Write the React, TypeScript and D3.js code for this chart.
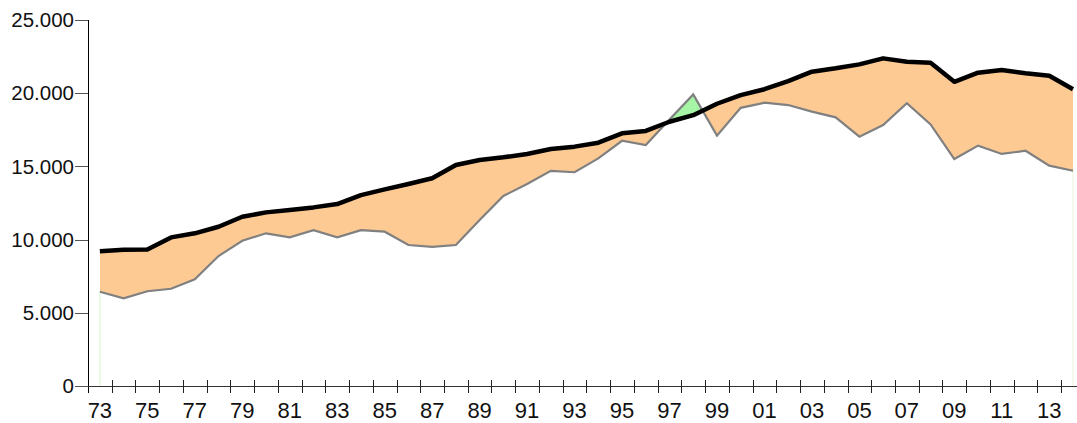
import React, { useEffect } from "react";
import * as d3 from "d3";

const years: number[] = [
  1973, 1974, 1975, 1976, 1977, 1978, 1979, 1980, 1981, 1982, 1983, 1984, 1985, 1986,
  1987, 1988, 1989, 1990, 1991, 1992, 1993, 1994, 1995, 1996, 1997, 1998, 1999, 2000,
  2001, 2002, 2003, 2004, 2005, 2006, 2007, 2008, 2009, 2010, 2011, 2012, 2013, 2014,
];

// thick black series
const seriesA: number[] = [
  9200, 9300, 9330, 10150, 10430, 10880, 11560, 11860, 12020, 12200, 12430, 13040, 13430, 13800,
  14190, 15100, 15440, 15620, 15850, 16190, 16350, 16620, 17260, 17420, 18050, 18500, 19280, 19870,
  20270, 20830, 21470, 21700, 21970, 22380, 22150, 22080, 20780, 21400, 21580, 21360, 21190, 20270,
];

// thin grey series
const seriesB: number[] = [
  6440, 5990, 6470, 6640, 7290, 8880, 9920, 10430, 10160, 10650, 10160, 10650, 10540, 9630,
  9510, 9630, 11340, 12980, 13800, 14700, 14600, 15550, 16750, 16460, 18200, 19920, 17100, 19000,
  19350, 19190, 18740, 18350, 17030, 17830, 19310, 17870, 15500, 16420, 15850, 16070, 15050, 14700,
];

const yTicks: number[] = [0, 5000, 10000, 15000, 20000, 25000];
const xLabelYears: number[] = years.filter((y) => (y - 1973) % 2 === 0);

const W = 1077;
const H = 423;
const M = { left: 88, top: 20, right: 4, bottom: 37 };

export default function App() {
  useEffect(() => {
    document.body.style.margin = "0";
  }, []);

  const data = years.map((yr, i) => ({ yr, a: seriesA[i], b: seriesB[i] }));

  const x = d3.scaleLinear().domain([1972.5, 2014]).range([M.left, 1073]);
  const y = d3.scaleLinear().domain([0, 25000]).range([H - M.bottom, M.top]);
  const y0 = y(0);
  const top = y(25000);

  const lineA = d3.line<any>().x((d) => x(d.yr)).y((d) => y(d.a));
  const lineB = d3.line<any>().x((d) => x(d.yr)).y((d) => y(d.b));
  const clipBelowA = d3.area<any>().x((d) => x(d.yr)).y0(y0).y1((d) => y(d.a));
  const clipAboveA = d3.area<any>().x((d) => x(d.yr)).y0(0).y1((d) => y(d.a));
  const areaBtoTop = d3.area<any>().x((d) => x(d.yr)).y0((d) => y(d.b)).y1(0);
  const areaBtoBottom = d3.area<any>().x((d) => x(d.yr)).y0(y0).y1((d) => y(d.b));

  const first = data[0];
  const last = data[data.length - 1];
  const font = "'Liberation Sans', Arial, sans-serif";

  const tickYears = d3.range(1973.5, 2014, 1);

  return (
    <svg
      width={W}
      height={H}
      style={{ display: "block", position: "absolute", left: 0, top: 0, background: "#fff" }}
    >
      <defs>
        <clipPath id="clipBelowA">
          <path d={clipBelowA(data) || ""} />
        </clipPath>
        <clipPath id="clipAboveA">
          <path d={clipAboveA(data) || ""} />
        </clipPath>
      </defs>

      {/* orange: A above B */}
      <path d={areaBtoTop(data) || ""} fill="#fdca94" clipPath="url(#clipBelowA)" />
      {/* green: B above A */}
      <path d={areaBtoBottom(data) || ""} fill="#a6f5a6" clipPath="url(#clipAboveA)" />

      {/* faint edges at the ends */}
      <line x1={x(first.yr)} x2={x(first.yr)} y1={y(first.b)} y2={y0} stroke="#d6f5cf" strokeWidth={1} />
      <line x1={x(last.yr)} x2={x(last.yr)} y1={y(last.b)} y2={y0} stroke="#e6f2d6" strokeWidth={1} />

      <path d={lineB(data) || ""} fill="none" stroke="#808080" strokeWidth={2.2} strokeLinejoin="miter" />
      <path d={lineA(data) || ""} fill="none" stroke="#000" strokeWidth={4.5} strokeLinejoin="round" />

      {/* y axis */}
      <line x1={M.left + 0.5} x2={M.left + 0.5} y1={top} y2={y0 + 7} stroke="#000" strokeWidth={1} />
      {yTicks.map((t) => (
        <g key={t}>
          <line x1={M.left - 13} x2={M.left} y1={Math.round(y(t)) + 0.5} y2={Math.round(y(t)) + 0.5} stroke="#555" strokeWidth={1} />
          <text
            x={M.left - 14}
            y={y(t)}
            dy="0.35em"
            textAnchor="end"
            fontFamily={font}
            fontSize={20.5}
            fill="#111"
          >
            {d3.format(",")(t).replace(/,/g, ".")}
          </text>
        </g>
      ))}

      {/* x axis */}
      <line x1={M.left} x2={W} y1={Math.round(y0) + 0.5} y2={Math.round(y0) + 0.5} stroke="#333" strokeWidth={1} />
      {tickYears.map((t) => (
        <line
          key={t}
          x1={Math.round(x(t)) + 0.5}
          x2={Math.round(x(t)) + 0.5}
          y1={y0 - 6}
          y2={y0 + 7}
          stroke="#222"
          strokeWidth={1}
        />
      ))}
      {xLabelYears.map((yr) => (
        <text
          key={yr}
          x={x(yr)}
          y={y0 + 32}
          textAnchor="middle"
          fontFamily={font}
          fontSize={22}
          fill="#111"
        >
          {String(yr % 100).padStart(2, "0")}
        </text>
      ))}
    </svg>
  );
}
